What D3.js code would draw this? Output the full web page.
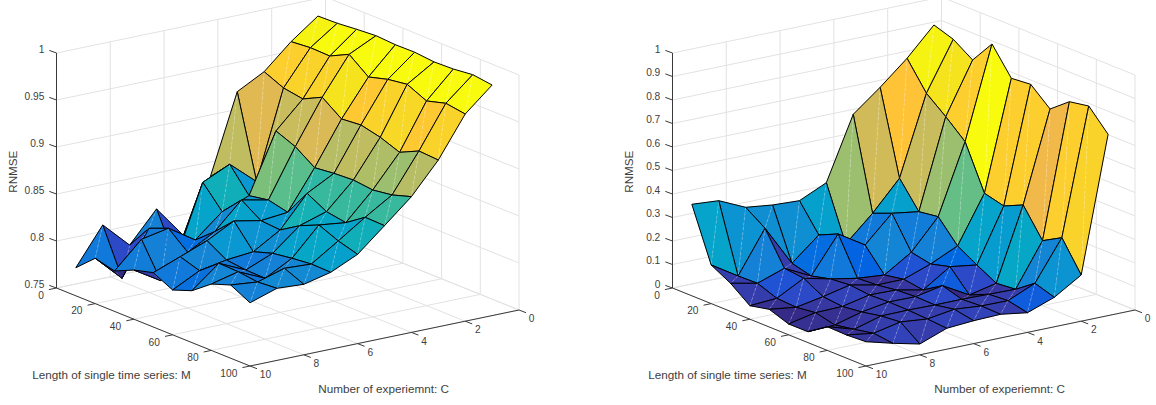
<!DOCTYPE html>
<html>
<head>
<meta charset="utf-8">
<script src="https://d3js.org/d3.v7.min.js"></script>
<style>
	html, body { margin: 0; padding: 0; background: #fff; }
	svg { display: block; }
	text { font-family: "Liberation Sans", Arial, sans-serif; fill: #404040; }
</style>
</head>
<body>
<script>
// surface is sampled at M = 10..100 and C = 1..10
var lengthM = [10, 20, 30, 40, 50, 60, 70, 80, 90, 100];
var experimentC = [1, 2, 3, 4, 5, 6, 7, 8, 9, 10];

var mTicks = [0, 20, 40, 60, 80, 100];
var cTicks = [0, 2, 4, 6, 8, 10];
var zTicksLeft = [0.75, 0.8, 0.85, 0.9, 0.95, 1];
var zTicksRight = [0, 0.1, 0.2, 0.3, 0.4, 0.5, 0.6, 0.7, 0.8, 0.9, 1];

// one row per C, one value per M
var rnmseLeft = [
	[.994, .9946, .9965, .998, .9967, .997, .995, .9957, .998, .9953],
	[.9727, .9746, .974, .9841, .9683, .9741, .9771, .9677, .9735, .9704],
	[.9467, .9377, .9343, .9444, .9296, .9315, .9267, .919, .9287, .9274],
	[.9314, .844, .9062, .8978, .8837, .886, .8872, .8849, .8879, .8944],
	[.8469, .8684, .8433, .847, .8422, .8707, .8595, .8561, .8701, .8695],
	[.7904, .8552, .8322, .853, .8393, .8377, .8505, .8596, .8509, .845],
	[.8245, .779, .8081, .8252, .8449, .8205, .8271, .8301, .8323, .8318],
	[.792, .8182, .8265, .8093, .8299, .8177, .8153, .8148, .8337, .825],
	[.8194, .771, .8207, .785, .8188, .8122, .8284, .8277, .8251, .8267],
	[.7799, .7982, .793, .8023, .8078, .7977, .8052, .8206, .8279, .8173]
];

var rnmseRight = [
	[.9379, .9102, .8553, .9566, .8438, .8515, .7796, .8438, .8587, .7715],
	[.82, .7043, .6379, .5647, .3783, .3574, .3949, .2762, .3221, .1966],
	[.7204, .3664, .2574, .2694, .1779, .1302, .0855, .0932, .1519, .1255],
	[.6294, .2413, .2745, .1417, .1251, .1468, .0596, .0957, .1017, .0838],
	[.3621, .1345, .1634, .0689, .0838, .0715, .123, .0983, .103, .1009],
	[.3094, .1966, .234, .0787, .0834, .0953, .1, .0979, .1128, .0974],
	[.3149, .1, .0791, .0996, .1072, .0979, .1013, .1, .0953, .0889],
	[.3289, .2728, .1357, .1264, .0813, .0728, .0826, .0987, .1064, .046],
	[.3809, .0936, .0957, .0651, .06, .0702, .051, .066, .0821, .0728],
	[.3894, .1643, .1196, .0574, .0753, .046, .0464, .1009, .0987, .1034]
];

// parula
var parula = [
	[.2081,.1663,.5292],[.2116,.1898,.5777],[.2123,.2138,.6270],[.2081,.2386,.6771],
	[.1959,.2645,.7279],[.1707,.2919,.7792],[.1253,.3242,.8303],[.0591,.3598,.8683],
	[.0117,.3875,.8820],[.0060,.4086,.8828],[.0165,.4266,.8786],[.0329,.4430,.8720],
	[.0498,.4586,.8641],[.0629,.4737,.8554],[.0723,.4887,.8467],[.0779,.5040,.8384],
	[.0793,.5200,.8312],[.0749,.5375,.8263],[.0641,.5570,.8240],[.0488,.5772,.8228],
	[.0343,.5966,.8199],[.0265,.6137,.8135],[.0239,.6287,.8038],[.0231,.6418,.7913],
	[.0228,.6535,.7768],[.0267,.6642,.7607],[.0384,.6743,.7436],[.0590,.6838,.7254],
	[.0843,.6928,.7062],[.1133,.7015,.6859],[.1453,.7098,.6646],[.1801,.7177,.6424],
	[.2178,.7250,.6193],[.2586,.7317,.5954],[.3022,.7376,.5712],[.3482,.7424,.5473],
	[.3953,.7459,.5244],[.4420,.7481,.5033],[.4871,.7491,.4840],[.5300,.7491,.4661],
	[.5709,.7485,.4494],[.6099,.7473,.4337],[.6473,.7456,.4188],[.6834,.7435,.4044],
	[.7184,.7411,.3905],[.7525,.7384,.3768],[.7858,.7356,.3633],[.8185,.7327,.3498],
	[.8507,.7299,.3360],[.8824,.7274,.3217],[.9139,.7258,.3063],[.9450,.7261,.2886],
	[.9739,.7314,.2666],[.9938,.7455,.2403],[.9990,.7653,.2164],[.9955,.7861,.1967],
	[.9880,.8066,.1794],[.9789,.8271,.1633],[.9697,.8481,.1475],[.9626,.8705,.1309],
	[.9589,.8949,.1132],[.9598,.9218,.0948],[.9661,.9514,.0755],[.9763,.9831,.0538]
].map(function(c) {
	return d3.rgb(c[0] * 255, c[1] * 255, c[2] * 255).formatHex();
});

var svg = d3.select("body").append("svg")
	.attr("width", 1156)
	.attr("height", 405);

drawPanel(svg, rnmseLeft, zTicksLeft, function(d) { return d; }, 56.5);
drawPanel(svg, rnmseRight, zTicksRight, function(d) { return d; }, 672.5);

function drawPanel(svg, rows, zTicks, fmt, originX) {
	var zMin = zTicks[0], zMax = zTicks[zTicks.length - 1];

	// skewed axes of the fixed 3d view, one scale per screen direction
	var mx = d3.scaleLinear().domain([0, 100]).range([0, 193.5]);
	var my = d3.scaleLinear().domain([0, 100]).range([0, 78]);
	var cx = d3.scaleLinear().domain([10, 0]).range([0, 269]);
	var cy = d3.scaleLinear().domain([10, 0]).range([0, -56]);
	var zy = d3.scaleLinear().domain([zMin, zMax]).range([0, -235]);

	var all = d3.merge(rows);
	var color = d3.scaleQuantize().domain(d3.extent(all)).range(parula);

	function px(m, c) { return originX + mx(m) + cx(c); }
	function py(m, c, z) { return 288 + my(m) + cy(c) + zy(z); }
	function pt(m, c, z) { return [px(m, c), py(m, c, z)]; }

	var line = d3.line();
	var g = svg.append("g");

	// grid
	var grid = [];
	zTicks.forEach(function(z) {
		grid.push([pt(0, 10, z), pt(0, 0, z)]);
		grid.push([pt(0, 0, z), pt(100, 0, z)]);
	});
	cTicks.forEach(function(c) {
		grid.push([pt(0, c, zMin), pt(0, c, zMax)]);
		grid.push([pt(0, c, zMin), pt(100, c, zMin)]);
	});
	mTicks.forEach(function(m) {
		grid.push([pt(m, 0, zMin), pt(m, 0, zMax)]);
		grid.push([pt(m, 10, zMin), pt(m, 0, zMin)]);
	});
	g.append("g").selectAll("path")
		.data(grid)
		.enter()
		.append("path")
		.attr("d", line)
		.attr("fill", "none")
		.attr("stroke", "#e2e2e2")
		.attr("stroke-width", 1);

	// axes
	var axes = [
		[pt(0, 10, zMin), pt(0, 10, zMax)],
		[pt(0, 10, zMin), pt(100, 10, zMin)],
		[pt(100, 10, zMin), pt(100, 0, zMin)]
	];
	zTicks.forEach(function(z) {
		axes.push([pt(0, 10, z), [px(0, 10) - 7.2, py(0, 10, z) - 2.6]]);
	});
	mTicks.forEach(function(m) {
		axes.push([pt(m, 10, zMin), [px(m, 10) - 7.6, py(m, 10, zMin) + 1.6]]);
	});
	cTicks.forEach(function(c) {
		axes.push([pt(100, c, zMin), [px(100, c) + 7, py(100, c, zMin) + 2.7]]);
	});
	g.append("g").selectAll("path")
		.data(axes)
		.enter()
		.append("path")
		.attr("d", line)
		.attr("fill", "none")
		.attr("stroke", "#3a3a3a")
		.attr("stroke-width", 1);

	// surface, back to front
	var cells = [];
	experimentC.slice(0, -1).forEach(function(c, i) {
		lengthM.slice(0, -1).forEach(function(m, j) {
			var a = pt(m, c, rows[i][j]);
			var b = pt(lengthM[j + 1], c, rows[i][j + 1]);
			var d = pt(lengthM[j + 1], experimentC[i + 1], rows[i + 1][j + 1]);
			var e = pt(m, experimentC[i + 1], rows[i + 1][j]);
			cells.push({ corners: [a, b, d, e], value: rows[i][j] });
		});
	});
	var cell = g.append("g").selectAll("g")
		.data(cells)
		.enter()
		.append("g");
	// two triangles, like the renderer splits a bent quad
	cell.append("path")
		.attr("d", function(d) { return line([d.corners[0], d.corners[1], d.corners[2]]) + "Z"; })
		.attr("fill", function(d) { return color(d.value); })
		.attr("stroke", function(d) { return color(d.value); })
		.attr("stroke-width", 0.3);
	cell.append("path")
		.attr("d", function(d) { return line([d.corners[0], d.corners[2], d.corners[3]]) + "Z"; })
		.attr("fill", function(d) { return color(d.value); })
		.attr("stroke", function(d) { return color(d.value); })
		.attr("stroke-width", 0.3);
	// light seam along the split
	cell.append("path")
		.attr("d", function(d) { return line([d.corners[0], d.corners[2]]); })
		.attr("fill", "none")
		.attr("stroke", "#fff")
		.attr("stroke-opacity", 0.35)
		.attr("stroke-width", 0.8)
		.attr("stroke-dasharray", "3 2");
	cell.append("path")
		.attr("d", function(d) { return line(d.corners) + "Z"; })
		.attr("fill", "none")
		.attr("stroke", "#000")
		.attr("stroke-width", 1)
		.attr("stroke-linejoin", "round");

	// tick labels
	g.append("g").selectAll("text")
		.data(zTicks)
		.enter()
		.append("text")
		.attr("x", px(0, 10) - 12.2)
		.attr("y", function(d) { return py(0, 10, d) - 3.7; })
		.attr("dy", "0.35em")
		.attr("text-anchor", "end")
		.attr("font-size", 10.2)
		.text(function(d) { return fmt(d); });
	g.append("g").selectAll("text")
		.data(mTicks)
		.enter()
		.append("text")
		.attr("x", function(d) { return px(d, 10) - 12.7; })
		.attr("y", function(d) { return py(d, 10, zMin) + 7.3; })
		.attr("dy", "0.35em")
		.attr("text-anchor", "end")
		.attr("font-size", 10.2)
		.text(function(d) { return d; });
	g.append("g").selectAll("text")
		.data(cTicks)
		.enter()
		.append("text")
		.attr("x", function(d) { return px(100, d) + 9.8; })
		.attr("y", function(d) { return py(100, d, zMin) + 8.7; })
		.attr("dy", "0.35em")
		.attr("text-anchor", "start")
		.attr("font-size", 10.2)
		.text(function(d) { return d; });

	// axis titles
	g.append("text")
		.attr("transform", "translate(" + (originX - 43.2) + ",171.7) rotate(-90)")
		.attr("dy", "0.35em")
		.attr("text-anchor", "middle")
		.attr("font-size", 11.7)
		.text("RNMSE");
	g.append("text")
		.attr("x", originX - 24.2)
		.attr("y", 375)
		.attr("dy", "0.35em")
		.attr("font-size", 11.7)
		.text("Length of single time series: M");
	g.append("text")
		.attr("x", originX + 261.8)
		.attr("y", 389)
		.attr("dy", "0.35em")
		.attr("font-size", 11.7)
		.text("Number of experiemnt: C");
}
</script>
</body>
</html>
